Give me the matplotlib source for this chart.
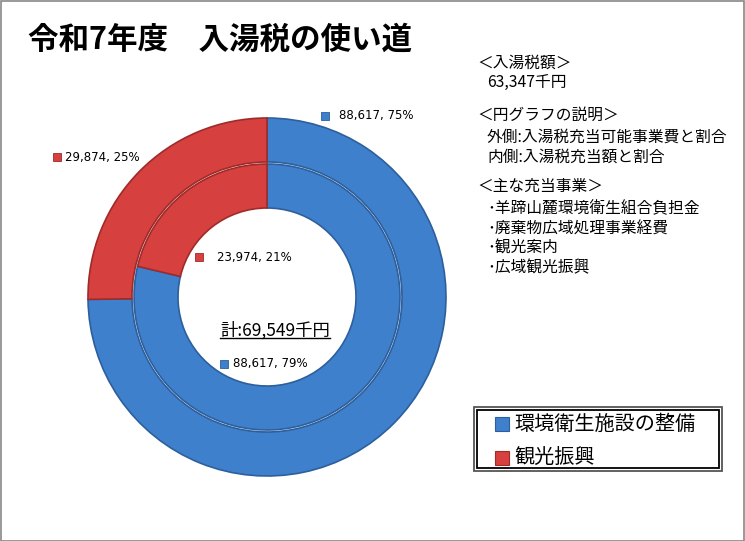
import matplotlib
matplotlib.use("Agg")
import matplotlib.pyplot as plt
from matplotlib.patches import Rectangle

plt.rcParams['font.family'] = ['Noto Sans CJK JP', 'DejaVu Sans']

# data
categories = ['環境衛生施設の整備', '観光振興']
outer_values = [88617, 29874]   # 入湯税充当可能事業費
inner_values = [88617, 23974]   # 入湯税充当額
tax_total = 63347
grand_total = 69549
info_lines = ['＜入湯税額＞', f'{tax_total:,}千円',
              '＜円グラフの説明＞', '外側:入湯税充当可能事業費と割合', '内側:入湯税充当額と割合',
              '＜主な充当事業＞', '･羊蹄山麓環境衛生組合負担金', '･廃棄物広域処理事業経費',
              '･観光案内', '･広域観光振興']

colors = ['#3f80cd', '#d6403e']
edges = ['#2c5f9c', '#9e2b29']

W, H = 745, 541
fig = plt.figure(figsize=(W / 100, H / 100), dpi=100)
ax = fig.add_axes([0, 0, 1, 1])

def py(y):
    # pixel row (from top) -> data y
    return H - y

cx, cy = 267, py(297)
outer = ax.pie(outer_values, radius=179, center=(cx, cy), startangle=90, counterclock=False,
               colors=colors, wedgeprops=dict(width=44, linewidth=1.2))[0]
inner = ax.pie(inner_values, radius=133, center=(cx, cy), startangle=90, counterclock=False,
               colors=colors, wedgeprops=dict(width=44, linewidth=1.2))[0]
for w, e in zip(outer + inner, edges * 2):
    w.set_edgecolor(e)

ax.set_xlim(0, W)
ax.set_ylim(0, H)
ax.set_aspect('equal')
ax.axis('off')

# data labels (value, percent) with colour squares
def label(vals, i, x, y, sq_x):
    pct = round(vals[i] / sum(vals) * 100)
    ax.plot(sq_x, py(y), marker='s', ms=6, color=colors[i], mec=edges[i], mew=0.6)
    ax.text(x, py(y), f'{vals[i]:,}, {pct}%', fontsize=8.5, va='center', ha='left',
            family='DejaVu Sans')

label(outer_values, 0, 339, 116, 325)
label(outer_values, 1, 65, 157, 57)
label(inner_values, 1, 217, 257, 199)
label(inner_values, 0, 233, 364, 224)

# total in centre, underlined
t = ax.text(275, py(330), f'計:{grand_total:,}千円', fontsize=12.5, ha='center', va='center')
fig.canvas.draw()
bb = t.get_window_extent().transformed(ax.transData.inverted())
ax.plot([bb.x0, bb.x1], [bb.y0 + 1, bb.y0 + 1], color='black', lw=1)

# title
fig.text(28 / W, 1 - 40 / H, '令和7年度　入湯税の使い道', fontsize=22, fontweight='bold',
         va='center', ha='left')

# info text on the right
xs = [477, 487, 477, 487, 487, 477, 487, 487, 487, 487]
ys = [63, 83, 115, 137, 157, 186, 209, 229, 248, 268]
for s, x, y in zip(info_lines, xs, ys):
    fig.text(x / W, 1 - y / H, s, fontsize=11.3, va='center', ha='left')

# legend box (drawn by hand to match the wide, spaced look)
lx0, lx1, ly0, ly1 = 474, 722, 407, 471
ax.add_patch(Rectangle((lx0, py(ly1)), lx1 - lx0, ly1 - ly0, fill=False, ec='#555555', lw=1.3))
ax.add_patch(Rectangle((lx0 + 3, py(ly1) + 3), lx1 - lx0 - 6, ly1 - ly0 - 6, fill=False,
                       ec='black', lw=1.3))
for i, (name, ly) in enumerate(zip(categories, [424, 458])):
    ax.plot(502, py(ly), marker='s', ms=10, color=colors[i], mec=edges[i], mew=0.8)
    ax.text(514, py(ly), name, fontsize=14.5, va='center', ha='left')

# outer border
fig.patches.append(Rectangle((0.5 / W, 0.5 / H), 1 - 1.5 / W, 1 - 1.5 / H, fill=False,
                             ec='#888888', lw=1.2, transform=fig.transFigure, figure=fig))

fig.savefig('out.png', dpi=100)
